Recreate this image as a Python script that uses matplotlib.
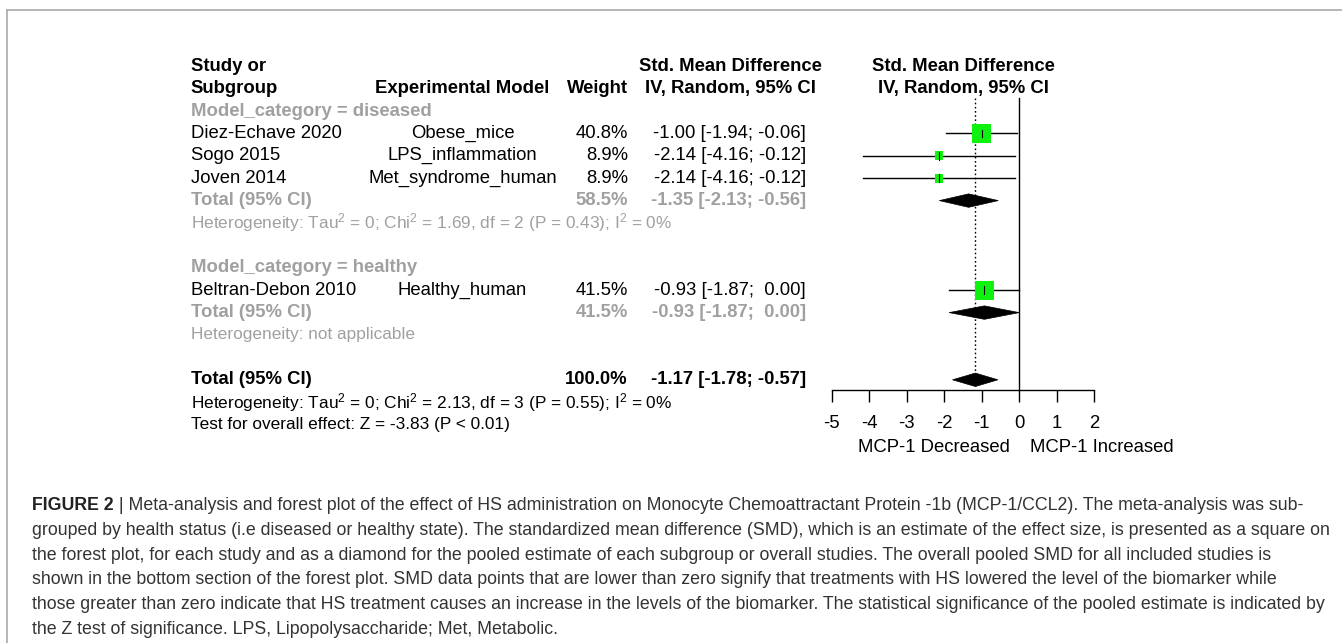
import matplotlib
matplotlib.use("Agg")
import matplotlib.pyplot as plt
import matplotlib.transforms as mtransforms
from matplotlib.patches import Rectangle, Polygon
from matplotlib.lines import Line2D
import numpy as np

plt.rcParams['font.family'] = ['Liberation Sans', 'DejaVu Sans']
plt.rcParams['mathtext.default'] = 'regular'

# ---- data ----
studies = ["Diez-Echave 2020", "Sogo 2015", "Joven 2014", "Beltran-Debon 2010"]
models = ["Obese_mice", "LPS_inflammation", "Met_syndrome_human", "Healthy_human"]
groups = ["diseased", "diseased", "diseased", "healthy"]
weights = [40.8, 8.9, 8.9, 41.5]
smd = [-1.00, -2.14, -2.14, -0.93]
ci_lo = [-1.94, -4.16, -4.16, -1.87]
ci_hi = [-0.06, -0.12, -0.12, 0.00]

sub_names = ["diseased", "healthy"]
sub_weight = [58.5, 41.5]
sub_smd = [-1.35, -0.93]
sub_lo = [-2.13, -1.87]
sub_hi = [-0.56, 0.00]
sub_het = ["Heterogeneity: Tau$^2$ = 0; Chi$^2$ = 1.69, df = 2 (P = 0.43); I$^2$ = 0%",
           "Heterogeneity: not applicable"]

total_weight = 100.0
total_smd = -1.17
total_lo = -1.78
total_hi = -0.57
total_het = "Heterogeneity: Tau$^2$ = 0; Chi$^2$ = 2.13, df = 3 (P = 0.55); I$^2$ = 0%"
total_test = "Test for overall effect: Z = -3.83 (P < 0.01)"

xticks = [-5, -4, -3, -2, -1, 0, 1, 2]
label_left = "MCP-1 Decreased"
label_right = "MCP-1 Increased"

caption_lines = [
    "Meta-analysis and forest plot of the effect of HS administration on Monocyte Chemoattractant Protein -1b (MCP-1/CCL2). The meta-analysis was sub-",
    "grouped by health status (i.e diseased or healthy state). The standardized mean difference (SMD), which is an estimate of the effect size, is presented as a square on",
    "the forest plot, for each study and as a diamond for the pooled estimate of each subgroup or overall studies. The overall pooled SMD for all included studies is",
    "shown in the bottom section of the forest plot. SMD data points that are lower than zero signify that treatments with HS lowered the level of the biomarker while",
    "those greater than zero indicate that HS treatment causes an increase in the levels of the biomarker. The statistical significance of the pooled estimate is indicated by",
    "the Z test of significance. LPS, Lipopolysaccharide; Met, Metabolic.",
]

# ---- layout (pixels) ----
W, H = 1342, 643
ROW0, ROWH = 111.0, 22.4          # y pixel of row 0, row height
X_LO, X_HI = 831.7, 1094.3        # pixel of x=-5 and x=2
FS = 13.3                          # main font size (pt)
FS_HET = 12.45
GREY = '#a0a0a0'

def ypx(r):
    return ROW0 + ROWH * r

fig = plt.figure(figsize=(W / 100, H / 100), dpi=100)
ax = fig.add_axes([X_LO / W, 1 - ypx(14.5) / H, (X_HI - X_LO) / W,
                   (ypx(14.5) - ypx(-2.5)) / H])
ax.set_xlim(xticks[0], xticks[-1])
ax.set_ylim(14.5, -2.5)
ax.patch.set_visible(False)
tr = mtransforms.blended_transform_factory(fig.transFigure, ax.transData)

# column x positions (figure px)
c_study, c_model, c_weight, c_smd, c_smd_head, c_plot_head = 190.7, 462.5, 628, 806, 730, 963.5

def put(x, row, s, ha='left', color='black', weight='normal', size=FS):
    ax.text(x / W, row, s, transform=tr, ha=ha, va='center', color=color,
            fontweight=weight, fontsize=size, clip_on=False)

# headers
put(c_study, -2, "Study or", weight='bold')
put(c_study, -1, "Subgroup", weight='bold')
put(c_model, -1, "Experimental Model", ha='center', weight='bold')
put(c_weight, -1, "Weight", ha='right', weight='bold')
put(c_smd_head, -2, "Std. Mean Difference", ha='center', weight='bold')
put(c_smd_head, -1, "IV, Random, 95% CI", ha='center', weight='bold')
put(c_plot_head, -2, "Std. Mean Difference", ha='center', weight='bold')
put(c_plot_head, -1, "IV, Random, 95% CI", ha='center', weight='bold')

def fmt(e, lo, hi):
    return f"{e:5.2f} [{lo:5.2f}; {hi:5.2f}]"

def diamond(row, e, lo, hi):
    ax.add_patch(Polygon([(lo, row), (e, row - 0.3), (hi, row), (e, row + 0.3)],
                         closed=True, facecolor='black', edgecolor='black', lw=0.5))

px_per_x = (X_HI - X_LO) / (xticks[-1] - xticks[0])
row = 0
for g, name in enumerate(sub_names):
    put(c_study, row, f"Model_category = {name}", color=GREY, weight='bold')
    row += 1
    for i in range(len(studies)):
        if groups[i] != name:
            continue
        put(c_study, row, studies[i])
        put(c_model, row, models[i], ha='center')
        put(c_weight, row, f"{weights[i]:.1f}%", ha='right')
        put(c_smd, row, fmt(smd[i], ci_lo[i], ci_hi[i]), ha='right')
        ax.plot([ci_lo[i], ci_hi[i]], [row, row], color='black', lw=1.0)
        side = 3.0 * np.sqrt(weights[i])
        w_d, h_d = side / px_per_x, side / ROWH
        ax.add_patch(Rectangle((smd[i] - w_d / 2, row - h_d / 2), w_d, h_d,
                               facecolor='#0ff20f', edgecolor='none', zorder=3))
        ax.plot([smd[i], smd[i]], [row - 0.17, row + 0.17], color='black', lw=0.8, zorder=4)
        row += 1
    put(c_study, row, "Total (95% CI)", color=GREY, weight='bold')
    put(c_weight, row, f"{sub_weight[g]:.1f}%", ha='right', color=GREY, weight='bold')
    put(c_smd, row, fmt(sub_smd[g], sub_lo[g], sub_hi[g]), ha='right', color=GREY, weight='bold')
    diamond(row, sub_smd[g], sub_lo[g], sub_hi[g])
    row += 1
    put(c_study, row, sub_het[g], color=GREY, size=FS_HET)
    row += 2

total_row = row
put(c_study, row, "Total (95% CI)", weight='bold')
put(c_weight, row, f"{total_weight:.1f}%", ha='right', weight='bold')
put(c_smd, row, fmt(total_smd, total_lo, total_hi), ha='right', weight='bold')
diamond(row, total_smd, total_lo, total_hi)
put(c_study, row + 1, total_het, size=FS_HET)
put(c_study, row + 2, total_test, size=FS_HET)

# reference lines
axis_row = total_row + 0.455
ax.plot([0, 0], [-0.58, axis_row], color='black', lw=1.0)
ax.plot([total_smd, total_smd], [-0.58, total_row - 0.3], color='black', lw=1.0,
        ls=(0, (1.2, 1.8)))

# x axis
for s in ['top', 'left', 'right']:
    ax.spines[s].set_visible(False)
ax.spines['bottom'].set_position(('data', axis_row))
ax.spines['bottom'].set_bounds(xticks[0], xticks[-1])
ax.spines['bottom'].set_linewidth(1.0)
ax.yaxis.set_visible(False)
ax.set_xticks(xticks)
ax.set_xticklabels([str(t) for t in xticks])
ax.tick_params(axis='x', direction='out', length=8.6, width=1.0, labelsize=FS, pad=9.5)

lab_row = (447 - ROW0) / ROWH
ax.annotate(label_left, xy=(0, lab_row), xytext=(-6.5, 0), textcoords='offset points',
            ha='right', va='center', fontsize=FS, annotation_clip=False)
ax.annotate(label_right, xy=(0, lab_row), xytext=(8, 0), textcoords='offset points',
            ha='left', va='center', fontsize=FS, annotation_clip=False)

# frame lines
fig.add_artist(Line2D([7 / W, 1], [1 - 10 / H, 1 - 10 / H], transform=fig.transFigure,
                      color='#aaaaaa', lw=1.2))
fig.add_artist(Line2D([7 / W, 7 / W], [0, 1 - 10 / H], transform=fig.transFigure,
                      color='#aaaaaa', lw=1.2))

# caption, sized so that the longest line spans its width
renderer = fig.canvas.get_renderer()
probe = fig.text(0, 0, caption_lines[4], fontsize=10)
cap_fs = 10 * 1300 / probe.get_window_extent(renderer).width
probe.remove()

cap_x, cap_y0, cap_dy = 32, 505.5, 24.8
head = fig.text(cap_x / W, 1 - cap_y0 / H, "FIGURE 2", fontsize=cap_fs, fontweight='bold',
                color='#222222', va='center')
hw = head.get_window_extent(renderer).width
fig.text((cap_x + hw) / W, 1 - cap_y0 / H, " | " + caption_lines[0], fontsize=cap_fs,
         color='#333333', va='center')
for k, line in enumerate(caption_lines[1:], start=1):
    fig.text(cap_x / W, 1 - (cap_y0 + k * cap_dy) / H, line, fontsize=cap_fs,
             color='#333333', va='center')

fig.savefig("out.png", dpi=100)
